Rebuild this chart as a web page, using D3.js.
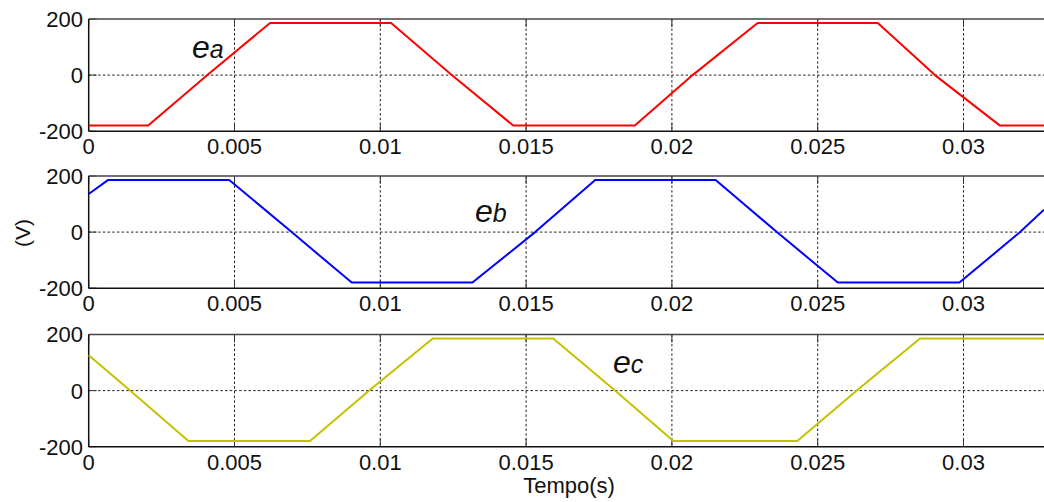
<!DOCTYPE html>
<html><head><meta charset="utf-8">
<script src="https://cdn.jsdelivr.net/npm/d3@7"></script>
<style>
body{margin:0;background:#fff;}
text{font-family:"Liberation Sans",Arial,sans-serif;fill:#111;}
</style></head>
<body><svg id="c" width="1044" height="502"></svg>
<script>
// ---- data ----
const xTicks = [0, 0.005, 0.01, 0.015, 0.02, 0.025, 0.03];
const xTickLabels = ["0", "0.005", "0.01", "0.015", "0.02", "0.025", "0.03"];
const yTicks = [-200, 0, 200];
const yTickLabels = ["-200", "0", "200"];

const eaT = [0, 0.00204, 0.00407, 0.00622, 0.01037, 0.01245, 0.01456, 0.01873, 0.02071, 0.02294, 0.02706, 0.02902, 0.03125, 0.0334];
const eaV = [-180, -180, 0, 186, 186, 0, -180, -180, 0, 186, 186, 0, -180, -180];

const ebT = [0, 0.00067, 0.00482, 0.00696, 0.00902, 0.01316, 0.01531, 0.01737, 0.0215, 0.0236, 0.02569, 0.02986, 0.03194, 0.03276];
const ebV = [136, 186, 186, 0, -180, -180, 0, 186, 186, 0, -180, -180, 0, 80];

const ecT = [0, 0.00142, 0.00342, 0.00759, 0.00962, 0.0118, 0.01593, 0.01805, 0.02005, 0.0243, 0.02634, 0.02851, 0.03272, 0.0329];
const ecV = [126, 0, -180, -180, 0, 186, 186, 0, -180, -180, 0, 186, 186, 178];

const seriesNames = ["a", "b", "c"];
const seriesColors = ["#ff0000", "#0000ff", "#c2c200"];

// ---- layout ----
const svg = d3.select("#c");
const left = 88.7, pxPer005 = 145.8;
const x = d3.scaleLinear().domain([0, 0.005]).range([left, left + pxPer005]);
const xEnd = 0.0334;
const panelTops = [19, 176, 334.5];
const panelH = 112.2;
const series = [
  {t: eaT, v: eaV},
  {t: ebT, v: ebV},
  {t: ecT, v: ecV}
];
const labelPos = [[192, 58], [475, 222], [613, 373]];

series.forEach((s, i) => {
  const top = panelTops[i];
  const y = d3.scaleLinear().domain([-200, 200]).range([top + panelH, top]);
  const g = svg.append("g");
  const xr = x(xEnd);

  // grid: vertical
  g.selectAll(".vg").data(xTicks.slice(1)).enter().append("line")
    .attr("x1", d => x(d)).attr("x2", d => x(d))
    .attr("y1", top).attr("y2", top + panelH)
    .attr("stroke", "#222").attr("stroke-width", 1)
    .attr("stroke-dasharray", "2.5,2.2");
  // grid: horizontal zero
  g.append("line").attr("x1", left).attr("x2", xr)
    .attr("y1", y(0)).attr("y2", y(0))
    .attr("stroke", "#222").attr("stroke-width", 1)
    .attr("stroke-dasharray", "2.5,2.2");

  // ticks inward
  g.selectAll(".tb").data(xTicks).enter().append("line")
    .attr("x1", d => x(d)).attr("x2", d => x(d))
    .attr("y1", top + panelH).attr("y2", top + panelH - 8)
    .attr("stroke", "#333").attr("stroke-width", 1);
  g.selectAll(".tt").data(xTicks).enter().append("line")
    .attr("x1", d => x(d)).attr("x2", d => x(d))
    .attr("y1", top).attr("y2", top + 8)
    .attr("stroke", "#333").attr("stroke-width", 1);
  g.selectAll(".ty").data(yTicks).enter().append("line")
    .attr("x1", left).attr("x2", left + 8)
    .attr("y1", d => y(d)).attr("y2", d => y(d))
    .attr("stroke", "#333").attr("stroke-width", 1);

  // box
  g.append("line").attr("x1", left).attr("x2", xr).attr("y1", top).attr("y2", top)
    .attr("stroke", "#444").attr("stroke-width", 1.3);
  g.append("line").attr("x1", left).attr("x2", xr).attr("y1", top + panelH).attr("y2", top + panelH)
    .attr("stroke", "#111").attr("stroke-width", 1.5);
  g.append("line").attr("x1", left).attr("x2", left).attr("y1", top).attr("y2", top + panelH)
    .attr("stroke", "#111").attr("stroke-width", 1.5);

  // series line
  const pts = s.t.map((t, k) => [t, s.v[k]]);
  g.append("path").datum(pts)
    .attr("d", d3.line().x(d => x(d[0])).y(d => y(d[1])))
    .attr("fill", "none").attr("stroke", seriesColors[i]).attr("stroke-width", 2)
    .attr("stroke-linejoin", "round");

  // y tick labels
  g.selectAll(".yl").data(yTicks).enter().append("text")
    .attr("x", 83).attr("y", d => y(d)).attr("dy", "0.36em")
    .attr("text-anchor", "end").style("font-size", "22px")
    .text((d, k) => yTickLabels[k]);
  // x tick labels
  g.selectAll(".xl").data(xTicks).enter().append("text")
    .attr("x", d => x(d)).attr("y", top + panelH + 23)
    .attr("text-anchor", "middle").style("font-size", "22px")
    .text((d, k) => xTickLabels[k]);

  // series label
  const lt = g.append("text").attr("x", labelPos[i][0]).attr("y", labelPos[i][1])
    .style("font-style", "italic");
  lt.append("tspan").style("font-size", "32px").text("e");
  lt.append("tspan").style("font-size", "25px").text(seriesNames[i]);
});

// axis titles
svg.append("text").attr("transform", "translate(30,233) rotate(-90)")
  .attr("text-anchor", "middle").style("font-size", "21px").text("(V)");
svg.append("text").attr("x", 569).attr("y", 493)
  .attr("text-anchor", "middle").style("font-size", "22px").text("Tempo(s)");
</script></body></html>
